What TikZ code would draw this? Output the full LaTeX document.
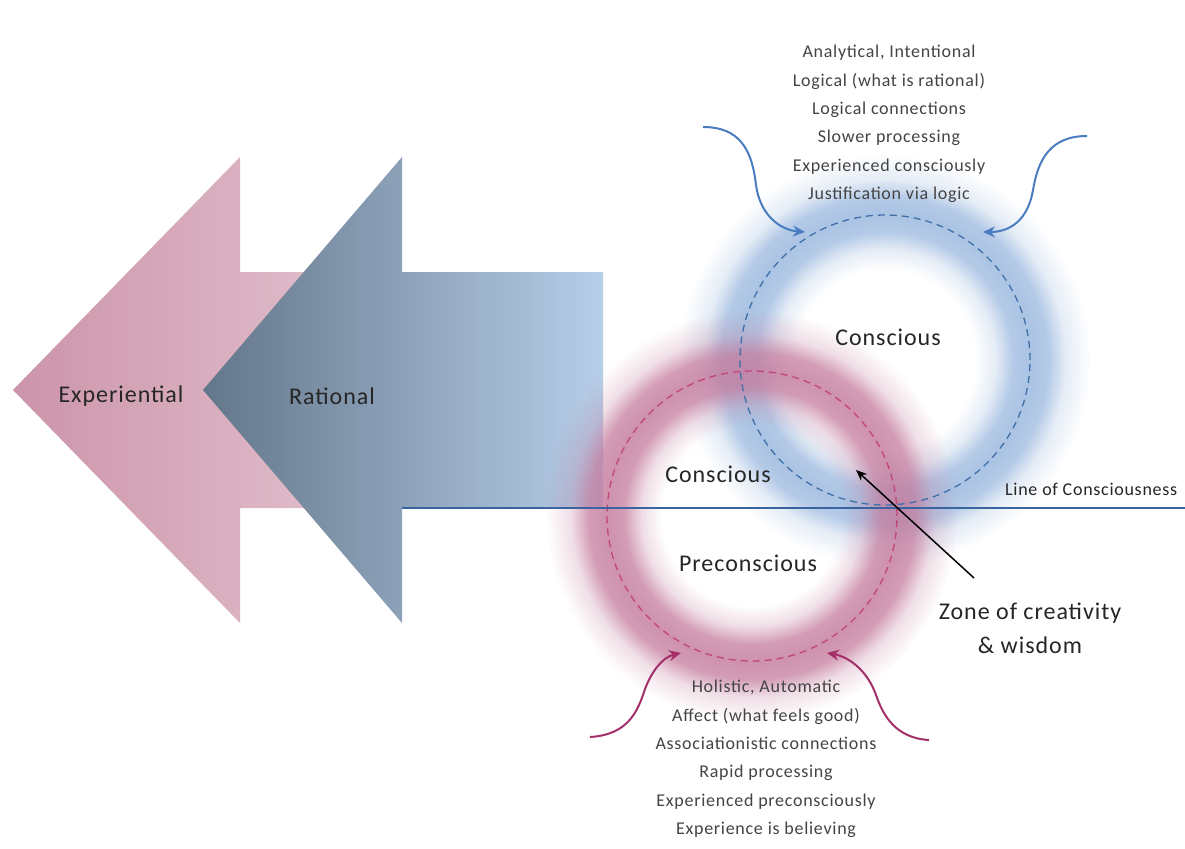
\documentclass[tikz,border=0pt]{standalone}
\usepackage{fontspec}
\setmainfont{Carlito}[LetterSpace=4]
\usetikzlibrary{arrows.meta,fadings}

% soft ring: transparent inside, opaque along the middle band, transparent outside
\pgfdeclareradialshading{ringglowshade}{\pgfpointorigin}{%
  color(0bp)=(pgftransparent!100);
  color(11bp)=(pgftransparent!100);
  color(13.4bp)=(pgftransparent!70);
  color(15.6bp)=(pgftransparent!10);
  color(17.7bp)=(pgftransparent!0);
  color(19.8bp)=(pgftransparent!10);
  color(22bp)=(pgftransparent!70);
  color(25bp)=(pgftransparent!100);
  color(50bp)=(pgftransparent!100)}
\pgfdeclarefading{ringglow}{\pgfuseshading{ringglowshade}}

\definecolor{pinkL}{HTML}{CC94AA}
\definecolor{pinkR}{HTML}{E4C6D1}
\definecolor{slateL}{HTML}{63768A}
\definecolor{slateR}{HTML}{B7CDE8}
\definecolor{ringblue}{HTML}{A7C1E3}
\definecolor{ringpink}{HTML}{C47A9C}
\definecolor{dashblue}{HTML}{3F6FA8}
\definecolor{dashpink}{HTML}{C0457A}
\definecolor{lineblue}{HTML}{3A64A0}
\definecolor{curveblue}{HTML}{4A7CC0}
\definecolor{curvepink}{HTML}{A3306B}
\definecolor{listgray}{HTML}{444444}
\definecolor{labelgray}{HTML}{262626}

\begin{document}
\begin{tikzpicture}[x=1pt,y=-1pt,
  biglabel/.style={font=\fontsize{24}{28}\selectfont, text=labelgray, inner sep=0pt},
  listtext/.style={font=\fontsize{18}{28.3}\selectfont, text=listgray, align=center, inner sep=0pt},
  smalllabel/.style={font=\fontsize{18}{20}\selectfont, text=labelgray, inner sep=0pt},
  glow/.style={path fading=ringglow, fill opacity=#1},
  ringdash/.style={circle, minimum size=290pt, inner sep=0pt, draw=#1,
    line width=1.3pt, dash pattern=on 7pt off 5pt},
  bluecurve/.style={draw=curveblue, line width=2pt,
    -{Stealth[length=12pt,width=11pt,inset=4pt]}},
  pinkcurve/.style={draw=curvepink, line width=2pt,
    -{Stealth[length=12pt,width=11pt,inset=4pt]}},
  pointer/.style={draw=black, line width=1.5pt, -{Stealth[length=11pt,width=9pt]}}
]
\useasboundingbox[fill=white] (0,0) rectangle (1185,848);

% the two block arrows pointing left
\shade[left color=pinkL, right color=pinkR]
  (13,390) -- (240,157) -- (240,272) -- (402,272) -- (402,508)
  -- (240,508) -- (240,623) -- cycle;
\shade[left color=slateL, right color=slateR]
  (203,390) -- (402,157) -- (402,272) -- (603,272) -- (603,508)
  -- (402,508) -- (402,623) -- cycle;
\node[biglabel] (exp) at (121,396) {Experiential};
\node[biglabel] (rat) at (332,396) {Rational};

% glowing rings
\coordinate (cc) at (885,360);
\coordinate (pc) at (752,516);
\fill[ringblue, glow=0.95] (cc) circle[radius=205];
\fill[ringpink, glow=0.82] (pc) circle[radius=205];
\node[ringdash=dashblue] (conscircle) at (cc) {};
\node[ringdash=dashpink] (precircle) at (pc) {};

% line of consciousness
\coordinate (locstart) at (402,508);
\coordinate (locend) at (1185,508);
\draw[lineblue, line width=2.6pt] (locstart) -- (locend);
\node[smalllabel, anchor=west] (loclabel) at (1005,489) {Line of Consciousness};

% ring labels
\node[biglabel] (consA) at (888,337) {Conscious};
\node[biglabel] (consB) at (718,474) {Conscious};
\node[biglabel] (precons) at (748,563) {Preconscious};

% attribute lists
\node[listtext] (ratlist) at (889,124) {Analytical, Intentional\\
  Logical (what is rational)\\ Logical connections\\ Slower processing\\
  Experienced consciously\\ Justification via logic};
\node[listtext] (explist) at (766,759) {Holistic, Automatic\\
  Affect (what feels good)\\ Associationistic connections\\ Rapid processing\\
  Experienced preconsciously\\ Experience is believing};

% curved feeders into the rings
\coordinate (bA) at (703,127);
\coordinate (bAtip) at (805,232);
\coordinate (bB) at (1087,136);
\coordinate (bBtip) at (983,232);
\draw[bluecurve] (bA) .. controls (740,127) and (752,150) .. (756,185)
  .. controls (760,215) and (780,230) .. (bAtip);
\draw[bluecurve] (bB) .. controls (1050,136) and (1038,160) .. (1033,190)
  .. controls (1028,220) and (1010,232) .. (bBtip);

\coordinate (pA) at (590,737);
\coordinate (pAtip) at (681,653);
\coordinate (pB) at (929,740);
\coordinate (pBtip) at (827,653);
\draw[pinkcurve] (pA) .. controls (625,735) and (636,715) .. (643,695)
  .. controls (650,672) and (663,657) .. (pAtip);
\draw[pinkcurve] (pB) .. controls (895,738) and (883,715) .. (876,695)
  .. controls (868,672) and (850,657) .. (pBtip);

% zone of creativity
\node[biglabel, align=center, font=\fontsize{24}{34}\selectfont] (zone) at (1030,628)
  {Zone of creativity\\ \& wisdom};
\coordinate (zonetail) at (974,578);
\coordinate (zonetip) at (856,470);
\draw[pointer] (zonetail) -- (zonetip);
\end{tikzpicture}
\end{document}
